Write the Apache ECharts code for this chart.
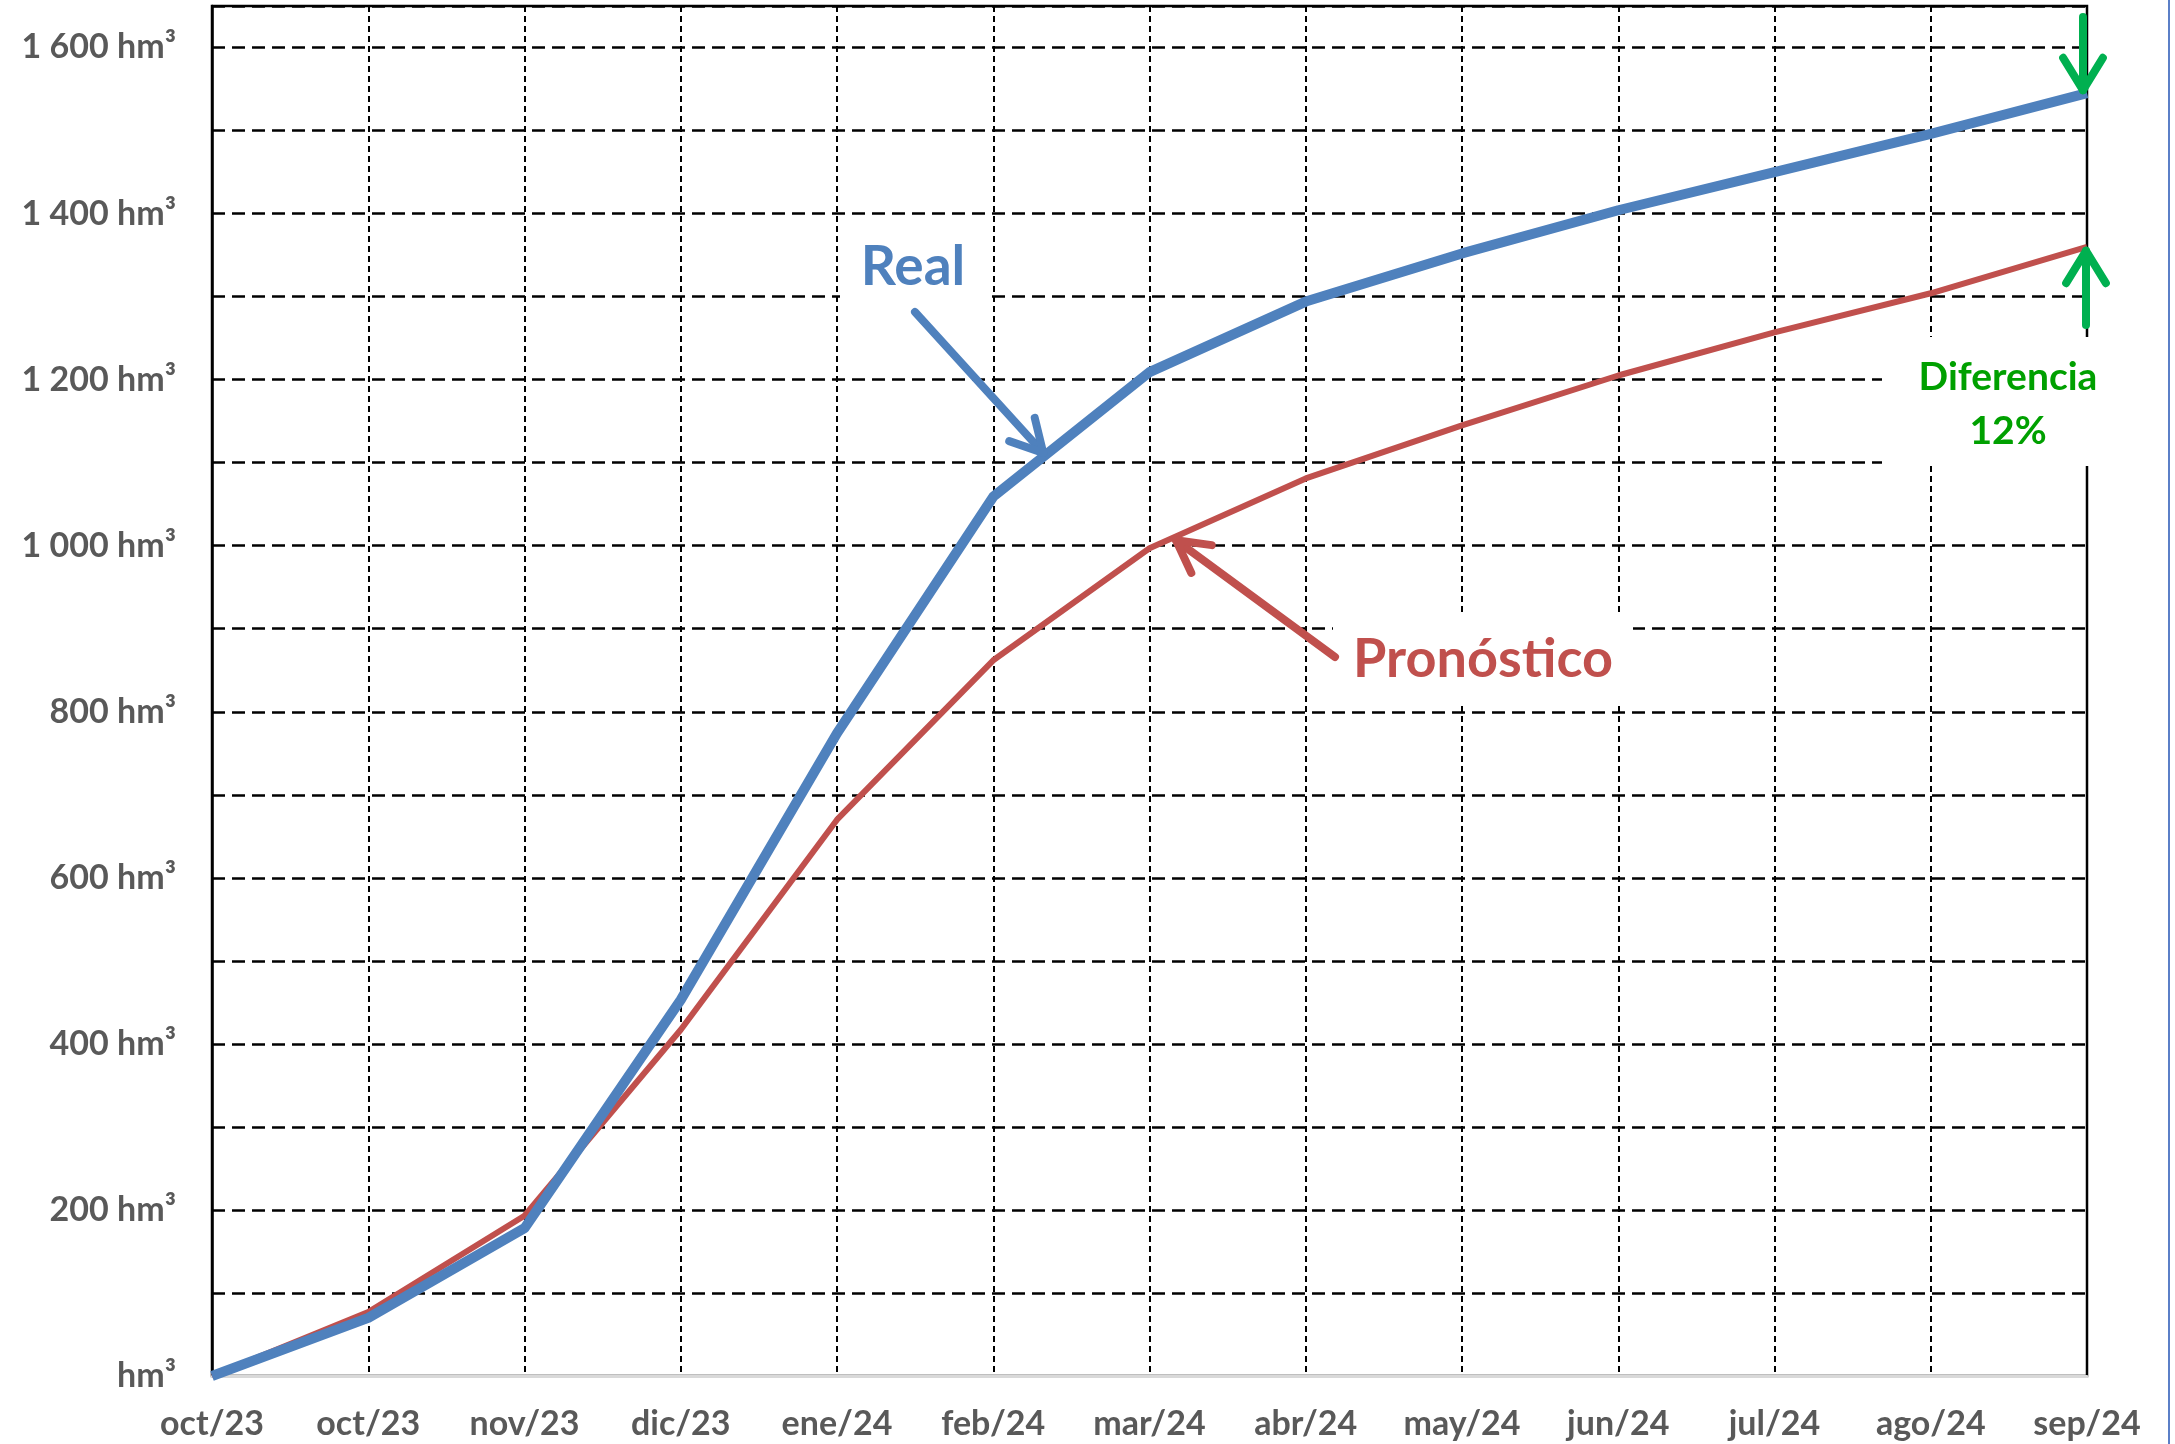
<!DOCTYPE html>
<html>
<head>
<meta charset="utf-8">
<script src="https://cdn.jsdelivr.net/npm/echarts@6/dist/echarts.min.js"></script>
<style>
html,body{margin:0;padding:0;background:#fff;}
#chart{width:2175px;height:1444px;}
</style>
</head>
<body>
<div id="chart"></div>
<script>
const categories = ['oct/23','oct/23','nov/23','dic/23','ene/24','feb/24','mar/24','abr/24','may/24','jun/24','jul/24','ago/24','sep/24'];
const realValues = [0, 70, 178, 453, 774, 1059, 1209, 1294, 1352, 1404, 1450, 1496, 1545];
const pronosticoValues = [0, 77, 193, 417, 670, 862, 997, 1081, 1145, 1205, 1257, 1304, 1360];
const yTickValues = [0, 200, 400, 600, 800, 1000, 1200, 1400, 1600];
const yTickLabels = ['hm³', '200 hm³', '400 hm³', '600 hm³', '800 hm³', '1 000 hm³', '1 200 hm³', '1 400 hm³', '1 600 hm³'];

const BLUE = '#4F81BD', RED = '#C0504D', GREEN = '#00B050', GREEN_TXT = '#00A000';
const FONT = 'Lato';

const chart = echarts.init(document.getElementById('chart'));
const option = {
  backgroundColor: '#ffffff',
  animation: false,
  grid: { left: 212, right: 88, top: 6, bottom: 68, show: true, borderColor: '#000', borderWidth: 2.5, backgroundColor: 'transparent' },
  xAxis: {
    type: 'category',
    data: categories,
    boundaryGap: false,
    axisLine: { show: true, lineStyle: { color: '#D9D9D9', width: 3 } },
    axisTick: { show: false },
    axisLabel: { interval: 0, margin: 31, color: '#595959', fontFamily: FONT, fontWeight: 'bold', fontSize: 34 },
    splitLine: { show: true, interval: 0, lineStyle: { color: '#000', width: 2, type: [6, 4] } }
  },
  yAxis: {
    type: 'value',
    min: 0, max: 1650, interval: 100,
    axisLine: { show: true, lineStyle: { color: '#000', width: 2.5 } },
    axisTick: { show: false },
    axisLabel: {
      margin: 36, color: '#595959', fontFamily: FONT, fontWeight: 'bold', fontSize: 34,
      formatter: function (v) { const i = yTickValues.indexOf(v); return i >= 0 ? yTickLabels[i] : ''; }
    },
    splitLine: { show: true, lineStyle: { color: '#000', width: 2.5, type: [13, 7] } }
  },
  series: [
    { name: 'Pronóstico', type: 'line', data: pronosticoValues, symbol: 'none', lineStyle: { color: RED, width: 6, join: 'round' }, z: 3 },
    { name: 'Real', type: 'line', data: realValues, symbol: 'none', lineStyle: { color: BLUE, width: 10, join: 'round' }, z: 4 }
  ]
};
chart.setOption(option);

function px(i, v) { return chart.convertToPixel({ gridIndex: 0 }, [i, v]); }
function lerp(a, b, t) { return [a[0] + (b[0] - a[0]) * t, a[1] + (b[1] - a[1]) * t]; }

const tipReal = lerp(px(5, realValues[5]), px(6, realValues[6]), 0.32);
const tipPron = lerp(px(6, pronosticoValues[6]), px(7, pronosticoValues[7]), 0.17);
const endReal = px(12, realValues[12]);
const endPron = px(12, pronosticoValues[12]);

function arrow(tail, tip, armLen, spread, color, width) {
  const ang = Math.atan2(tip[1] - tail[1], tip[0] - tail[0]);
  const a1 = [tip[0] - armLen * Math.cos(ang - spread), tip[1] - armLen * Math.sin(ang - spread)];
  const a2 = [tip[0] - armLen * Math.cos(ang + spread), tip[1] - armLen * Math.sin(ang + spread)];
  return [
    { type: 'line', z: 110, shape: { x1: tail[0], y1: tail[1], x2: tip[0], y2: tip[1] }, style: { stroke: color, lineWidth: width, lineCap: 'round' } },
    { type: 'polyline', z: 110, shape: { points: [a1, tip, a2] }, style: { stroke: color, lineWidth: width, lineCap: 'round', lineJoin: 'round', fill: null } }
  ];
}

function box(x1, y1, x2, y2) {
  return { type: 'rect', z: 100, shape: { x: x1, y: y1, width: x2 - x1, height: y2 - y1 }, style: { fill: '#fff' } };
}
function label(text, x, y, size, color) {
  return { type: 'text', z: 105, x: x, y: y, style: { text: text, fill: color, font: 'bold ' + size + 'px ' + FONT, align: 'center', verticalAlign: 'middle' } };
}

const graphics = [];
graphics.push(box(840, 228, 985, 305));
graphics.push(box(1333, 615, 1633, 703));
graphics.push(box(1882, 337, 2096, 466));
graphics.push(label('Real', 913, 267, 55, BLUE));
graphics.push(label('Pronóstico', 1483, 660, 54, RED));
graphics.push(label('Diferencia', 2008, 377, 39, GREEN_TXT));
graphics.push(label('12%', 2008, 431, 39, GREEN_TXT));
arrow([915, 312], [tipReal[0], tipReal[1] - 4], 36, 0.5, BLUE, 8).forEach(g => graphics.push(g));
arrow([1335, 657], [tipPron[0], tipPron[1] + 4], 36, 0.5, RED, 8).forEach(g => graphics.push(g));
arrow([endReal[0] - 4, 17], [endReal[0] - 4, endReal[1] - 3], 38, 0.55, GREEN, 8).forEach(g => graphics.push(g));
arrow([endPron[0] - 1, 325], [endPron[0] - 1, endPron[1] + 4], 38, 0.55, GREEN, 8).forEach(g => graphics.push(g));
graphics.push({ type: 'line', z: 120, shape: { x1: 2169, y1: 0, x2: 2169, y2: 1444 }, style: { stroke: '#5B7FC7', lineWidth: 2 } });

chart.setOption({ graphic: graphics });
</script>
</body>
</html>
